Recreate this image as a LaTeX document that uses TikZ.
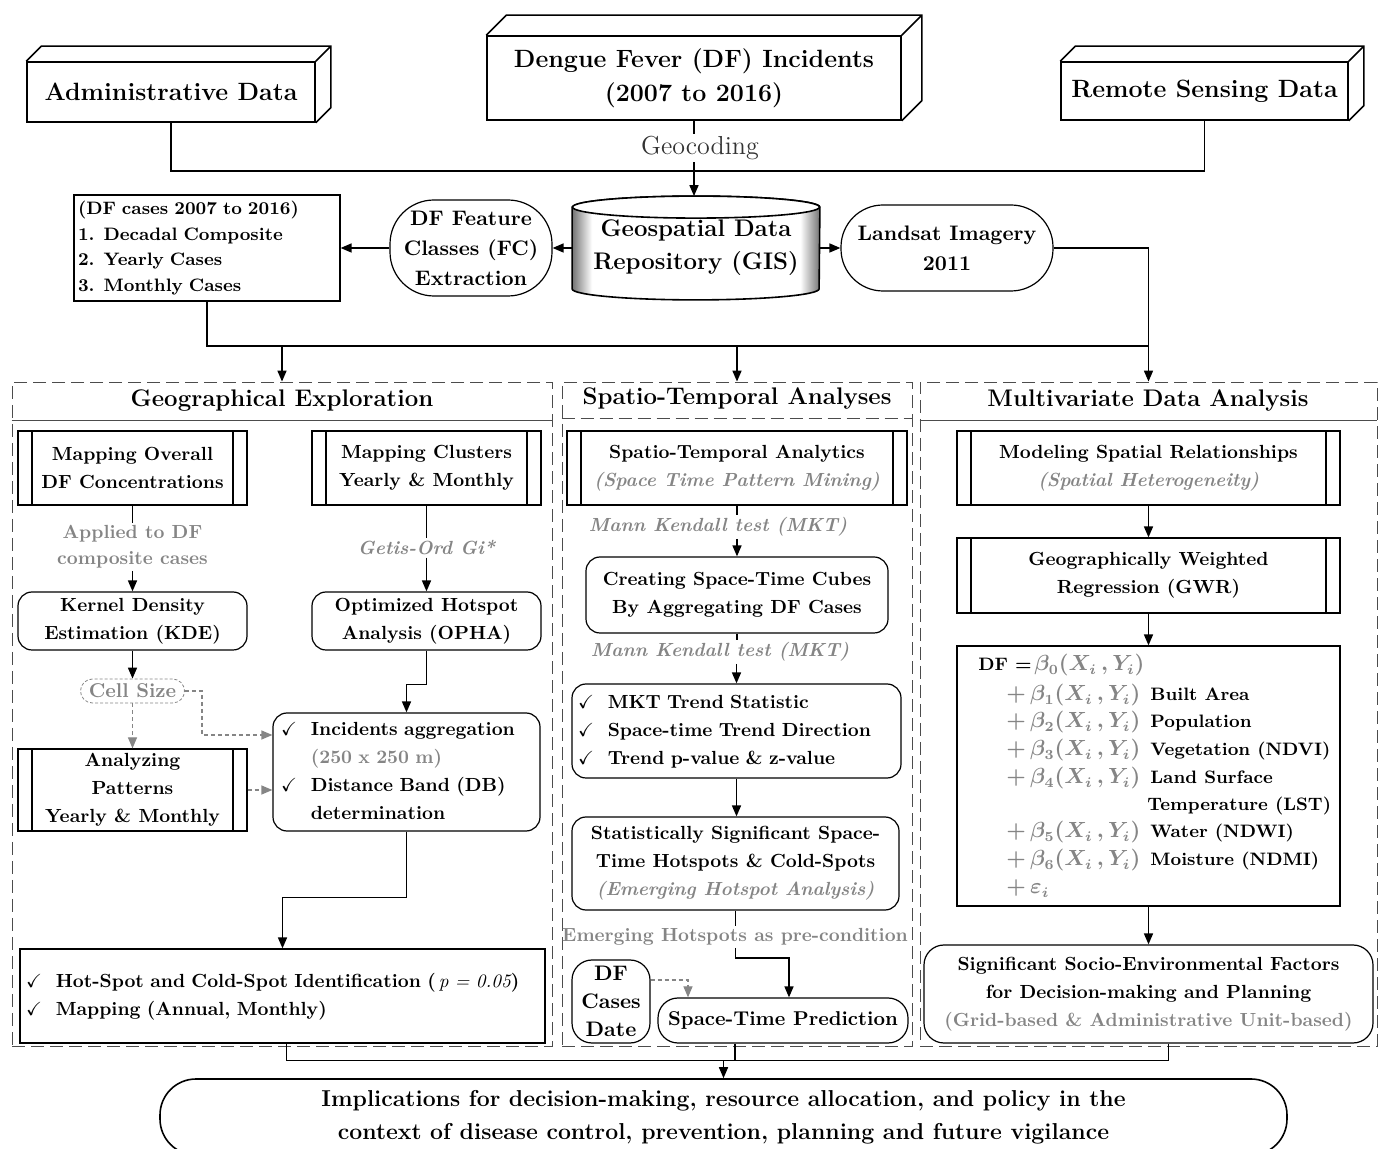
\documentclass[tikz,border=0pt]{standalone}
\usepackage{amsmath,amssymb}
\usepackage{tikz}
\usetikzlibrary{arrows.meta,positioning,backgrounds}

\definecolor{lbl}{gray}{0.52}
\definecolor{pnl}{gray}{0.3}
\pgfdeclarehorizontalshading{cylshade}{100bp}{color(0bp)=(black!55); color(25bp)=(black!55);
  color(29bp)=(white); color(71bp)=(white); color(75bp)=(black!55); color(100bp)=(black!55)}

\newcommand\depthbox[2]{%
  \draw[thick] (#1.north west) -- ++(#2,#2) -- ([shift={(#2,#2)}]#1.north east)
    -- ([shift={(#2,#2)}]#1.south east) -- (#1.south east) (#1.north east) -- ++(#2,#2);}

\tikzset{
  every node/.style={align=center, inner sep=1pt, font=\fontsize{9.5}{14}\selectfont\bfseries},
  sz/.style 2 args={minimum width=#1*0.5pt, minimum height=#2*0.5pt},
  datab/.style={draw, thick, font=\fontsize{12.5}{17}\selectfont\bfseries},
  plain/.style={draw, semithick},
  rbox/.style={draw, semithick, rounded corners=7pt},
  proc/.style={draw, semithick, path picture={
      \draw ([xshift=7pt]path picture bounding box.north west) -- ([xshift=7pt]path picture bounding box.south west)
            ([xshift=-7pt]path picture bounding box.north east) -- ([xshift=-7pt]path picture bounding box.south east);}},
  panel/.style={draw=pnl, dash pattern=on 6.5pt off 3pt},
  ptitle/.style={font=\fontsize{12}{14}\selectfont\bfseries},
  note/.style={text=lbl},
  inote/.style={text=lbl, font=\fontsize{9.5}{13}\selectfont\bfseries\itshape},
  ln/.style={thick},
  arr/.style={thick, -{Triangle[length=5.5pt, width=4.5pt]}},
  garr/.style={semithick, draw=lbl, dash pattern=on 2pt off 1.5pt, -{Triangle[length=5.5pt, width=4.5pt]}},
  eqt/.style={anchor=base west, text=lbl, font=\fontsize{10.5}{14}\selectfont\boldmath},
  eql/.style={anchor=base west, font=\fontsize{9}{14}\selectfont\bfseries},
}

\begin{document}
\begin{tikzpicture}[x=0.5pt, y=-0.5pt]
\useasboundingbox (0,0) rectangle (1383,1149);

% panels
\node[panel, sz={540}{664}] (geo) at (282,714) {};
\node[panel, sz={350}{664}] (st) at (737,714) {};
\node[panel, sz={457}{664}] (mva) at (1148.5,714) {};
\draw[draw=pnl] ([yshift=-19.5pt]geo.north west) -- ([yshift=-19.5pt]geo.north east);
\draw[panel] ([yshift=-18.5pt]st.north west) -- ([yshift=-18.5pt]st.north east);
\draw[draw=pnl] ([yshift=-19.5pt]mva.north west) -- ([yshift=-19.5pt]mva.north east);
\node[ptitle] (geot) at (282,401) {Geographical Exploration};
\node[ptitle] (stt) at (737,399) {Spatio-Temporal Analyses};
\node[ptitle] (mvat) at (1148,401) {Multivariate Data Analysis};

% sources
\node[datab, sz={288}{60}] (adm) at (171,92) {Administrative Data};
\node[datab, sz={414}{84}] (dfi) at (694,78) {Dengue Fever (DF) Incidents\\(2007 to 2016)};
\node[datab, sz={287}{58}] (rsd) at (1204.5,91) {Remote Sensing Data};
\depthbox{adm}{7.5pt}
\depthbox{dfi}{10pt}
\depthbox{rsd}{7.5pt}

\node[sz={247}{103}, font=\fontsize{12}{16.5}\selectfont\bfseries] (gis) at (696,248) {Geospatial Data\\Repository (GIS)};
\begin{scope}[on background layer]
\draw[thick, shading=cylshade]
  ([yshift=-5.5pt]gis.north west) -- ([yshift=5.5pt]gis.south west)
  arc[start angle=180, end angle=360, x radius=61.75pt, y radius=5.5pt]
  -- ([yshift=-5.5pt]gis.north east)
  arc[start angle=0, end angle=180, x radius=61.75pt, y radius=5.5pt] -- cycle;
\draw[thick, fill=white] ([yshift=-5.5pt]gis.north) ellipse[x radius=61.75pt, y radius=5.5pt];
\end{scope}
\node[draw, semithick, rounded corners=22pt, sz={162}{96}, font=\fontsize{10.5}{15}\selectfont\bfseries] (fc) at (471,248) {DF Feature\\Classes (FC)\\Extraction};
\node[plain, sz={266}{106}, text width=129pt, align=left, inner xsep=2pt, font=\fontsize{9}{12.75}\selectfont\bfseries] (cases) at (207,248) {(DF cases 2007 to 2016)\\1. Decadal Composite\\2. Yearly Cases\\3. Monthly Cases};
\node[draw, semithick, rounded corners=21pt, sz={212}{86}, font=\fontsize{10.5}{15}\selectfont\bfseries] (land) at (947,248) {Landsat Imagery\\2011};

\coordinate (jn) at (694,171);
\node[font=\fontsize{13}{15}\selectfont, text=black!80] (geoc) at (700,148) {Geocoding};
\draw[semithick] (dfi.south) -- (dfi.south |- geoc.north);
\draw[arr] (dfi.south |- geoc.south) -- (dfi.south |- gis.north);
\draw[ln] (adm.south) |- (jn) -| (rsd.south);
\draw[arr] (gis.west) -- (fc.east);
\draw[arr] (fc.west) -- (cases.east);
\draw[arr] (gis.east) -- (land.west);
\coordinate (bar) at (1148.5,346);
\draw[ln] (cases.south) |- (bar);
\draw[arr] (land.east) -| (mva.north);
\draw[arr] (geo.north |- bar) -- (geo.north);
\draw[arr] (st.north |- bar) -- (st.north);

% geographical exploration
\node[proc, sz={229}{74}] (moc) at (132.5,468) {Mapping Overall\\DF Concentrations};
\node[proc, sz={229}{74}] (mcl) at (426.5,468) {Mapping Clusters\\Yearly \& Monthly};
\node[note, font=\fontsize{9.5}{13}\selectfont\bfseries] (appl) at (132.5,547) {Applied to DF\\composite cases};
\node[inote] (getis) at (426.5,548) {Getis-Ord Gi*};
\node[rbox, sz={229}{58}] (kde) at (132.5,621) {Kernel Density\\Estimation (KDE)};
\node[rbox, sz={229}{58}] (opha) at (426.5,621) {Optimized Hotspot\\Analysis (OPHA)};
\node[draw=lbl, dash pattern=on 1.5pt off 1pt, rounded corners=6pt, text=lbl, sz={104}{24}, font=\fontsize{10}{12}\selectfont\bfseries] (cell) at (132.5,691) {Cell Size};
\node[proc, sz={229}{82}] (anp) at (132.5,790) {Analyzing\\Patterns\\Yearly \& Monthly};
\node[rbox, sz={267}{118}, text width=125.5pt, inner xsep=4pt, align=left] (inc) at (406.5,772)
  {\begin{tabular}{@{}l@{\hspace{7pt}}l@{}}$\checkmark$ & Incidents aggregation\\ & {\color{lbl}(250 x 250 m)}\\ $\checkmark$ & Distance Band (DB)\\ & determination\end{tabular}};
\node[plain, sz={525}{94}, text width=256.5pt, inner xsep=3pt, align=left] (hot) at (282.5,996)
  {\begin{tabular}{@{}l@{\hspace{7pt}}l@{}}$\checkmark$ & Hot-Spot and Cold-Spot Identification (\,{\mdseries\itshape p = 0.05})\\ $\checkmark$ & Mapping (Annual, Monthly)\end{tabular}};

\draw[ln] (moc) -- (appl);
\draw[arr] (appl) -- (kde);
\draw[ln] (mcl) -- (getis);
\draw[arr] (getis) -- (opha);
\draw[arr] (kde) -- (cell);
\draw[garr] (cell) -- (anp);
\draw[garr] (cell.east) -- ++(8.5pt,0pt) |- ([yshift=18.5pt]inc.west);
\draw[garr] (anp.east) -- (anp.east -| inc.west);
\draw[arr] (opha.south) -- ++(0pt,-17pt) -| (inc.north);
\draw[arr] (inc.south) -- ++(0pt,-33pt) -| (hot.north);

% spatio-temporal analyses
\node[proc, sz={340}{74}] (sta) at (737,468) {Spatio-Temporal Analytics\\{\color{lbl}\itshape(Space Time Pattern Mining)}};
\node[inote] (mk1) at (718,527) {Mann Kendall test (MKT)};
\node[rbox, sz={302}{76}] (stc) at (737,595) {Creating Space-Time Cubes\\By Aggregating DF Cases};
\node[inote] (mk2) at (720,652) {Mann Kendall test (MKT)};
\node[rbox, sz={329}{94}, text width=158.5pt, inner xsep=3pt, align=left] (mkt) at (736.5,731)
  {\begin{tabular}{@{}l@{\hspace{7pt}}l@{}}$\checkmark$ & MKT Trend Statistic\\ $\checkmark$ & Space-time Trend Direction\\ $\checkmark$ & Trend p-value \& z-value\end{tabular}};
\node[rbox, sz={327}{93}] (sss) at (735.5,863.5) {Statistically Significant Space-\\Time Hotspots \& Cold-Spots\\{\color{lbl}\itshape(Emerging Hotspot Analysis)}};
\node[note] (ehp) at (735,937) {Emerging Hotspots as pre-condition};
\node[rbox, rounded corners=10pt, sz={78}{83}, font=\fontsize{10.5}{14}\selectfont\bfseries] (dfc) at (611,1001.5) {DF\\Cases\\Date};
\node[rbox, rounded corners=10pt, sz={250}{45}, font=\fontsize{10}{14}\selectfont\bfseries] (stp) at (783,1020.5) {Space-Time Prediction};

\draw[ln] (sta.south) -- (sta.south |- mk1.north);
\draw[arr] (stc.north |- mk1.south) -- (stc.north);
\draw[ln] (stc.south) -- (stc.south |- mk2.north);
\draw[arr] (mkt.north |- mk2.south) -- (mkt.north);
\draw[arr] (mkt.south) -- (mkt.south |- sss.north);
\draw[ln] (sss.south) -- (sss.south |- ehp.north);
\draw[arr] (sss.south |- ehp.south) -- ++(0pt,-5pt) -| ([xshift=3pt]stp.north);
\draw[garr] ([yshift=10.75pt]dfc.east) -| ([xshift=-47.5pt]stp.north);

% multivariate data analysis
\node[proc, sz={383}{74}] (msr) at (1148.5,468) {Modeling Spatial Relationships\\{\color{lbl}\itshape(Spatial Heterogeneity)}};
\node[proc, sz={383}{75}] (gwr) at (1148.5,575.5) {Geographically Weighted\\Regression (GWR)};
\node[plain, sz={383}{260}] (eqb) at (1148.5,776) {};
\node[eql] (eq0) at (976,671) {DF =};
\node[eqt] (b0) at (1032,671) {$\beta_0(X_i\,,Y_i)$};
\foreach \k/\lab/\yy in {1/Built Area/701, 2/Population/728, 3/Vegetation (NDVI)/756, 4/Land Surface/784, 5/Water (NDWI)/838, 6/Moisture (NDMI)/866}
{
  \node[eqt] (b\k) at (1004,\yy) {$+\,\beta_\k(X_i\,,Y_i)$};
  \node[eql] (l\k) at (1148,\yy) {\lab};
}
\node[eql] (l4b) at (1145,811) {Temperature (LST)};
\node[eqt] (b7) at (1004,894) {$+\,\varepsilon_i$};
\node[rbox, rounded corners=10pt, sz={449}{98}] (sef) at (1148.5,994) {Significant Socio-Environmental Factors\\for Decision-making and Planning\\{\color{lbl}(Grid-based \& Administrative Unit-based)}};

\draw[arr] (msr) -- (gwr);
\draw[arr] (gwr) -- (eqb);
\draw[arr] (eqb) -- (sef);

% implications
\node[draw, thick, rounded corners=18pt, sz={1127}{76}, font=\fontsize{11.5}{16.5}\selectfont\bfseries] (imp) at (723.5,1117) {Implications for decision-making, resource allocation, and policy in the\\context of disease control, prevention, planning and future vigilance};
\coordinate (bus) at (723.5,1060);
\draw[ln] ([xshift=2pt]hot.south) -- ++(0pt,-8.5pt) -| ([xshift=10pt]sef.south);
\draw[ln] ([xshift=-24pt]stp.south) -- ++(0pt,-8.5pt);
\draw[arr] (bus) -- (imp.north);
\end{tikzpicture}
\end{document}
